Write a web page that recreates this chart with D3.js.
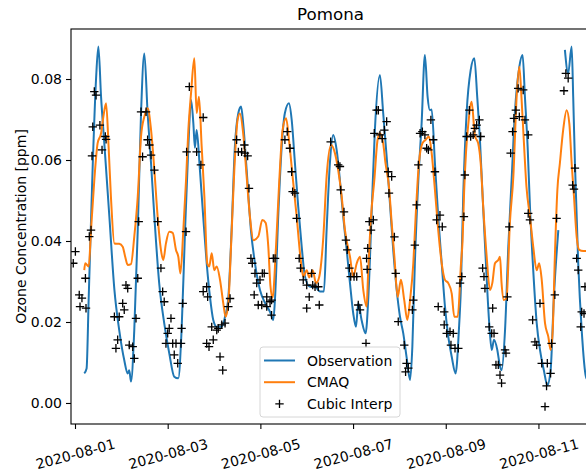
<!DOCTYPE html>
<html>
<head>
<meta charset="utf-8">
<script src="https://cdn.jsdelivr.net/npm/d3@7"></script>
<style>
  body { margin: 0; background: #fff; }
  svg { display: block; font-family: "DejaVu Sans", sans-serif; }
</style>
</head>
<body>
<svg id="chart"></svg>
<script>
// hours since 2020-08-01 00:00, ozone in ppm
var observation = [
  [4.8,0.0073],[6.0,0.0085],[7.1,0.026],[9.2,0.059],[10.9,0.080],[12.1,0.088],[13.5,0.0756],[15.2,0.064],
  [17.8,0.046],[20.4,0.028],[22.9,0.018],[25.5,0.0106],[27.3,0.0073],[28.1,0.0081],[29.0,0.0053],[30.7,0.018],
  [32.5,0.0427],[34.2,0.0716],[35.9,0.0863],[37.6,0.0716],[39.4,0.059],[41.1,0.046],[43.6,0.0296],[46.2,0.0197],
  [48.8,0.0123],[51.4,0.0065],[53.5,0.0061],[55.2,0.018],[57.0,0.0427],[58.7,0.0633],[60.1,0.0748],[61.3,0.069],
  [62.1,0.063],[63.0,0.0674],[64.7,0.0575],[66.4,0.046],[68.2,0.0345],[69.9,0.0262],[71.6,0.0205],[73.4,0.0188],
  [76.0,0.0188],[77.7,0.0213],[79.4,0.026],[81.1,0.0427],[82.8,0.0633],[84.6,0.0716],[86.0,0.0732],[87.1,0.069],
  [88.9,0.0575],[91.1,0.0427],[93.2,0.0345],[95.8,0.0279],[98.4,0.0247],[101.0,0.0225],[102.7,0.0205],[103.6,0.026],
  [105.3,0.0468],[107.0,0.063],[108.7,0.0716],[110.8,0.074],[112.2,0.070],[113.9,0.0592],[115.6,0.0485],[117.4,0.0386],
  [119.1,0.0312],[121.7,0.0287],[124.3,0.0287],[126.9,0.0275],[128.9,0.0275],[130.3,0.0427],[132.0,0.0592],[133.7,0.0662],
  [135.5,0.0625],[137.2,0.055],[138.9,0.046],[140.7,0.0378],[142.4,0.0296],[144.1,0.0221],[145.5,0.0188],[146.7,0.0247],
  [148.4,0.0205],[150.5,0.0172],[151.9,0.026],[153.6,0.0468],[155.3,0.0674],[157.9,0.081],[159.6,0.0716],[161.4,0.0608],
  [163.1,0.0493],[164.8,0.0378],[166.6,0.0279],[168.3,0.0213],[170.0,0.0172],[171.7,0.0114],[173.5,0.0057],[174.7,0.0139],
  [176.0,0.0345],[177.8,0.055],[179.5,0.069],[181.2,0.0859],[182.6,0.0756],[183.8,0.0723],[184.7,0.0725],[186.4,0.0592],
  [188.1,0.046],[189.9,0.0345],[191.6,0.0238],[193.3,0.0164],[195.1,0.0114],[197.1,0.0073],[198.8,0.018],[199.8,0.028],
  [201.1,0.052],[202.8,0.0716],[204.9,0.0822],[206.8,0.0851],[208.3,0.0756],[209.7,0.065],[211.1,0.051],[212.8,0.0345],
  [214.5,0.0197],[215.8,0.0131],[217.0,0.0156],[218.7,0.0131],[220.1,0.009],[220.9,0.0081],[222.7,0.018],[224.4,0.0386],
  [226.1,0.055],[227.8,0.0716],[230.1,0.083],[231.8,0.0859],[233.0,0.0756],[234.4,0.0633],[235.6,0.0485],[237.3,0.0328],
  [239.1,0.0197],[240.8,0.0131],[242.8,0.0081],[244.6,0.0044],[246.3,0.0081],[248.0,0.0262],[250.3,0.0427],[251.5,null],
  [253.7,0.0872],[255.4,0.0814],[257.2,0.088],[258.0,0.0756],[258.9,0.0592],[260.6,0.0345],[262.4,0.018],[264.6,0.0065],
  [266.5,0.005]
];

var cmaq = [
  [4.8,0.0328],[5.3,0.0345],[7.1,0.0337],[8.3,0.0427],[10.0,0.055],[11.7,0.0641],[13.5,0.0666],[14.7,0.0707],
  [16.1,0.074],[17.4,0.0633],[18.6,0.051],[20.4,0.0394],[22.9,0.0393],[24.7,0.0386],[26.0,0.0361],[27.3,0.0341],
  [29.0,0.0343],[30.7,0.0411],[32.5,0.051],[34.2,0.0658],[35.9,0.0707],[37.6,0.0728],[39.4,0.0674],[41.1,0.0575],
  [42.8,0.046],[44.5,0.0378],[45.7,0.0353],[47.1,0.0394],[48.8,0.0423],[50.6,0.042],[52.3,0.0378],[53.5,0.0361],
  [54.6,0.032],[56.1,0.0427],[57.5,0.055],[58.7,0.0674],[60.1,0.0765],[61.8,0.0851],[63.0,0.0716],[64.2,0.0756],
  [65.6,0.0633],[67.0,0.051],[68.5,0.0345],[69.5,0.0337],[70.8,0.037],[72.1,0.0328],[73.4,0.0337],[75.1,0.0304],
  [76.8,0.0246],[78.0,0.0213],[79.4,0.0246],[80.8,0.0386],[82.5,0.0575],[84.2,0.0699],[85.4,0.0715],[87.1,0.0666],
  [88.9,0.0559],[90.6,0.046],[92.4,0.0402],[94.9,0.0411],[97.0,0.0452],[98.7,0.0445],[100.1,0.0386],[101.2,0.029],
  [102.3,0.026],[104.1,0.0386],[105.8,0.055],[107.5,0.0674],[109.3,0.0703],[111.0,0.0641],[112.7,0.0559],[114.8,0.046],
  [116.9,0.0353],[118.2,0.0312],[120.0,0.0328],[121.3,0.031],[123.1,0.0328],[124.8,0.0296],[126.5,0.0312],[128.6,0.041],
  [130.3,0.0559],[132.6,0.0637],[134.6,0.0617],[136.3,0.0575],[138.1,0.051],[139.8,0.0427],[142.4,0.0361],[144.1,0.0312],
  [145.9,0.0345],[147.6,0.0361],[149.3,0.0279],[151.0,0.0238],[151.8,0.032],[153.3,0.046],[155.0,0.055],[156.7,0.065],
  [157.9,0.0666],[159.6,0.0641],[160.8,0.0592],[162.6,0.0534],[164.0,0.0444],[165.4,0.0361],[167.1,0.0262],[168.8,0.0304],
  [170.5,0.0254],[172.1,0.0205],[173.5,0.0254],[175.2,0.0345],[176.4,0.046],[178.1,0.0592],[179.9,0.0641],[181.6,0.065],
  [183.3,0.0658],[184.7,0.0617],[186.4,0.0526],[188.1,0.0427],[189.9,0.0345],[191.6,0.0304],[193.3,0.0296],[195.1,0.027],
  [196.4,0.0213],[198.2,0.0213],[199.9,0.0345],[200.7,0.040],[201.5,0.052],[202.5,0.062],[203.7,0.069],[205.4,0.0744],
  [207.1,0.066],[208.8,0.0641],[210.1,0.0592],[211.4,0.0485],[213.2,0.0361],[214.9,0.0279],[216.1,0.0296],[217.5,0.0345],
  [219.2,0.0353],[220.1,0.0361],[220.9,0.0296],[222.1,0.0254],[223.5,0.026],[225.2,0.0444],[227.0,0.0559],[228.7,0.0756],
  [230.1,0.083],[231.2,0.0756],[232.4,0.065],[233.8,0.0534],[235.6,0.046],[237.3,0.0386],[239.1,0.0328],[240.4,0.0345],
  [241.7,0.0304],[243.4,0.0197],[245.1,0.0164],[246.3,0.0131],[247.4,0.018],[248.5,0.0361],[249.8,0.0526],[251.1,0.0592],
  [252.8,0.0674],[254.6,0.0723],[256.0,0.069],[257.2,0.0592],[258.4,0.051],[259.8,0.041],[261.1,0.0378],[263.2,0.0375],
  [266.5,0.0375]
];

var cubicInterp = [
  [-0.9,0.0345],[0.2,0.0374],[2.2,0.0267],[2.6,0.0238],[3.6,0.0259],[5.4,0.0308],[5.7,0.0234],[7.4,0.0411],
  [8.3,0.0427],[8.8,0.061],[9.2,0.0682],[10.0,0.0769],[10.9,0.076],[12.9,0.0686],[14.0,0.0625],[15.7,0.0658],
  [16.1,0.0651],[20.4,0.0213],[21.2,0.0135],[22.1,0.0156],[22.9,0.0213],[24.7,0.0246],[25.5,0.023],[26.4,0.0291],
  [27.3,0.0283],[28.1,0.0143],[29.9,0.0139],[30.7,0.011],[31.6,0.0209],[32.5,0.0308],[33.0,0.0448],[34.2,0.0719],
  [35.0,0.0608],[36.8,0.0719],[37.6,0.065],[38.5,0.0637],[39.4,0.0612],[41.1,0.0575],[42.8,0.0448],[44.5,0.0333],
  [45.4,0.0275],[46.2,0.025],[47.1,0.0147],[48.0,0.0172],[48.8,0.0184],[49.7,0.0209],[50.6,0.0147],[51.4,0.0119],
  [52.3,0.0147],[53.2,0.0098],[54.9,0.0147],[55.2,0.0184],[55.8,0.0246],[57.5,0.0423],[57.8,0.062],[59.2,0.0781],
  [63.0,0.062],[65.2,0.0588],[66.4,0.0705],[66.4,0.0275],[68.2,0.0287],[68.7,0.0262],[68.2,0.0147],[69.4,0.0139],
  [70.8,0.0188],[71.6,0.0156],[73.4,0.018],[74.2,0.0184],[75.1,0.0114],[76.0,0.0193],[76.5,0.0081],[77.7,0.0197],
  [79.4,0.0238],[80.3,0.0258],[83.7,0.065],[84.6,0.062],[86.3,0.062],[87.7,0.0637],[88.0,0.0617],[89.4,0.061],
  [90.1,0.053],[91.1,0.0357],[91.8,0.0345],[92.8,0.0267],[93.2,0.032],[94.1,0.0296],[94.9,0.0242],[95.8,0.0304],
  [96.7,0.0242],[97.0,0.032],[98.0,0.032],[99.3,0.0262],[99.3,0.0238],[101.0,0.025],[101.8,0.0217],[101.8,0.0254],
  [102.7,0.0357],[103.6,0.0357],[108.7,0.065],[109.9,0.067],[111.3,0.0629],[112.2,0.0571],[112.7,0.0522],[113.9,0.0518],
  [114.8,0.0456],[116.1,0.0357],[116.8,0.0333],[118.2,0.0304],[120.0,0.0291],[120.0,0.0234],[121.3,0.0262],[122.6,0.032],
  [123.1,0.0291],[124.3,0.0287],[126.0,0.0287],[126.5,0.0242],[132.4,0.0645],[136.3,0.0588],[137.2,0.0584],[137.6,0.0526],
  [139.3,0.0472],[140.3,0.0402],[141.0,0.0378],[142.1,0.0333],[142.8,0.0312],[144.5,0.0312],[145.9,0.0312],[146.7,0.0242],
  [147.6,0.023],[150.7,0.0147],[151.0,0.0357],[151.3,0.033],[151.6,0.0382],[152.4,0.0448],[153.3,0.0427],[154.5,0.0452],
  [155.0,0.0666],[156.2,0.0723],[157.1,0.0723],[157.9,0.0662],[159.1,0.0653],[160.2,0.0674],[161.4,0.0695],[162.2,0.0571],
  [162.6,0.0518],[164.0,0.0559],[165.4,0.041],[166.1,0.032],[167.4,0.0201],[170.5,0.0143],[171.2,0.0077],[171.7,0.0098],
  [172.6,0.0086],[174.7,0.023],[175.2,0.0254],[176.0,0.039],[176.9,0.0489],[177.8,0.0588],[178.7,0.0666],[179.9,0.067],
  [181.2,0.0662],[182.1,0.0629],[183.0,0.0625],[184.3,0.0699],[185.5,0.065],[186.4,0.0571],[187.3,0.0452],[188.1,0.0238],
  [189.0,0.0464],[190.2,0.0435],[191.2,0.0225],[191.2,0.0193],[192.5,0.0172],[194.2,0.0176],[194.7,0.0143],[195.9,0.0172],
  [196.8,0.0135],[198.5,0.0135],[199.4,0.0296],[200.3,0.0312],[201.4,0.046],[201.9,0.0563],[202.8,0.0658],[204.2,0.0723],
  [204.9,0.0658],[206.2,0.0662],[207.1,0.0678],[208.0,0.0686],[209.4,0.0699],[210.1,0.0658],[211.1,0.0333],[211.8,0.0312],
  [212.3,0.0283],[214.5,0.0188],[215.8,0.0172],[216.3,0.0234],[217.0,0.0172],[218.0,0.0094],[219.2,0.0094],[220.1,0.0069],
  [220.9,0.0049],[222.7,0.0131],[223.2,0.0123],[223.9,0.0262],[224.9,0.0435],[225.6,0.0617],[226.6,0.067],[227.3,0.0703],
  [228.3,0.0723],[229.5,0.0777],[230.1,0.0707],[232.1,0.0773],[233.0,0.0699],[234.7,0.0662],[234.7,0.0468],[235.6,0.0452],
  [237.0,0.0205],[238.2,0.0151],[239.1,0.0143],[240.8,0.0246],[241.7,0.0098],[243.4,-0.0009],[244.2,0.0042],[244.6,0.0098],
  [246.3,0.0073],[246.8,0.0147],[248.5,0.0267],[249.4,0.0456],[253.2,0.0771],[254.2,0.0814],[255.4,0.0802],[257.7,0.0538],
  [258.4,0.0528],[258.9,0.058],[259.8,0.0357],[260.6,0.0328],[261.9,0.0188],[262.4,0.0225],[263.6,0.0221],[264.1,0.0287]
];

var xTickLabels = ["2020-08-01", "2020-08-03", "2020-08-05", "2020-08-07", "2020-08-09", "2020-08-11"];
var yTickValues = [0.00, 0.02, 0.04, 0.06, 0.08];
var seriesNames = ["Observation", "CMAQ", "Cubic Interp"];

// hours -> date
var start = Date.UTC(2020, 7, 1);
function toDate(h) { return new Date(start + h * 3600000); }

var width = 586, height = 475;
var plot = { left: 71, top: 29, right: 590, bottom: 424 };

var svg = d3.select("#chart")
    .attr("width", width)
    .attr("height", height);

// scales
var xscale = d3.scaleUtc()
    .domain([toDate(-2.07), toDate(266.7)])
    .range([plot.left, plot.right]);
var yscale = d3.scaleLinear()
    .domain([-0.00519, 0.09235])
    .range([plot.bottom, plot.top]);

svg.append("clipPath").attr("id", "clip")
  .append("rect")
    .attr("x", plot.left).attr("y", plot.top)
    .attr("width", plot.right - plot.left).attr("height", plot.bottom - plot.top);

var area = svg.append("g").attr("clip-path", "url(#clip)");

var line = d3.line()
    .defined(function(d) { return d[1] !== null; })
    .x(function(d) { return xscale(toDate(d[0])); })
    .y(function(d) { return yscale(d[1]); })
    .curve(d3.curveMonotoneX);

area.append("path")
    .datum(observation)
    .attr("fill", "none")
    .attr("stroke", "#1f77b4")
    .attr("stroke-width", 2)
    .attr("stroke-linejoin", "round")
    .attr("d", line);

area.append("path")
    .datum(cmaq)
    .attr("fill", "none")
    .attr("stroke", "#ff7f0e")
    .attr("stroke-width", 2)
    .attr("stroke-linejoin", "round")
    .attr("d", line);

var plus = "M-4.2,0H4.2M0,-4.2V4.2";

area.selectAll(".interp")
    .data(cubicInterp)
  .enter().append("path")
    .attr("class", "interp")
    .attr("d", plus)
    .attr("transform", function(d) { return "translate(" + xscale(toDate(d[0])) + "," + yscale(d[1]) + ")"; })
    .attr("fill", "none")
    .attr("stroke", "#000")
    .attr("stroke-width", 1.3);

// axises
var xaxis = d3.axisBottom(xscale)
    .tickValues(xTickLabels.map(function(s) { return d3.utcParse("%Y-%m-%d")(s); }))
    .tickFormat(d3.utcFormat("%Y-%m-%d"))
    .tickSize(5);

var yaxis = d3.axisLeft(yscale)
    .tickValues(yTickValues)
    .tickFormat(d3.format(".2f"))
    .tickSize(5)
    .tickPadding(4);

var gx = svg.append("g")
    .attr("transform", "translate(0," + plot.bottom + ")")
    .call(xaxis);
gx.select(".domain").remove();
gx.selectAll("text")
    .attr("y", null).attr("dy", null)
    .attr("text-anchor", "middle")
    .attr("dominant-baseline", "central")
    .attr("transform", "translate(0,30) rotate(-15)");

var gy = svg.append("g")
    .attr("transform", "translate(" + plot.left + ",0)")
    .call(yaxis);
gy.select(".domain").remove();

svg.selectAll(".tick line").attr("stroke", "#000").attr("stroke-width", 1.1);
svg.selectAll(".tick text")
    .attr("fill", "#000")
    .style("font-family", "DejaVu Sans")
    .style("font-size", "14px");

// frame
svg.append("rect")
    .attr("x", plot.left).attr("y", plot.top)
    .attr("width", plot.right - plot.left).attr("height", plot.bottom - plot.top)
    .attr("fill", "none")
    .attr("stroke", "#000")
    .attr("stroke-width", 1.1);

// title + label
svg.append("text")
    .attr("x", (plot.left + plot.right) / 2)
    .attr("y", 20)
    .attr("text-anchor", "middle")
    .style("font-size", "16.7px")
    .text("Pomona");

svg.append("text")
    .attr("transform", "translate(21," + (plot.top + plot.bottom) / 2 + ") rotate(-90)")
    .attr("text-anchor", "middle")
    .attr("dominant-baseline", "central")
    .style("font-size", "14px")
    .text("Ozone Concentration [ppm]");

// legend
var legend = svg.append("g").attr("transform", "translate(260,347)");
legend.append("rect")
    .attr("width", 140).attr("height", 70)
    .attr("rx", 3)
    .attr("fill", "#fff").attr("fill-opacity", 0.8)
    .attr("stroke", "#d6d6d6");

var rows = legend.selectAll(".row")
    .data(seriesNames)
  .enter().append("g")
    .attr("transform", function(d, i) { return "translate(0," + (13.5 + i * 21.7) + ")"; });

rows.each(function(d, i) {
  var g = d3.select(this);
  if (i < 2) {
    g.append("line")
        .attr("x1", 4).attr("x2", 35)
        .attr("stroke", i === 0 ? "#1f77b4" : "#ff7f0e")
        .attr("stroke-width", 2);
  } else {
    g.append("path")
        .attr("d", plus)
        .attr("transform", "translate(19.5,0)")
        .attr("fill", "none").attr("stroke", "#000").attr("stroke-width", 1.3);
  }
  g.append("text")
      .attr("x", 47)
      .attr("dominant-baseline", "central")
      .style("font-size", "14px")
      .text(d);
});
</script>
</body>
</html>
